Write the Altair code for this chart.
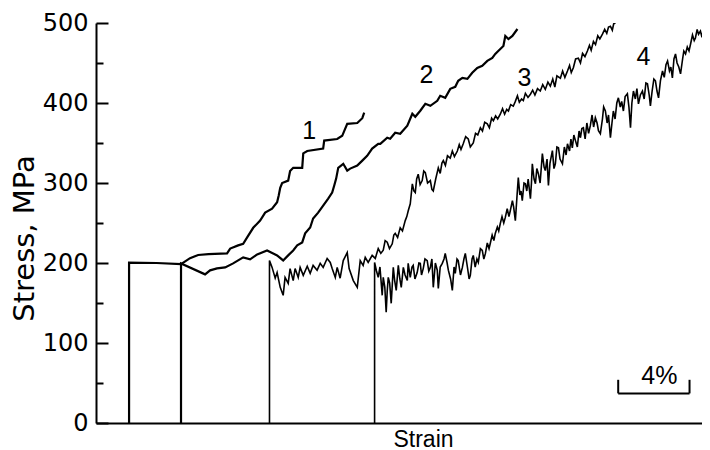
import altair as alt
import pandas as pd

# ---- data (strain in %, stress in MPa) ----
c1_strain = [1.91, 1.91, 3.5, 4.91, 5.43, 5.9, 6.5, 7.57, 7.75, 8.21, 8.5, 8.73, 9.08, 9.48, 9.77,
             10.17, 10.46, 10.55, 10.64, 10.75, 11.10, 11.21, 11.39, 11.91, 11.97, 12.20, 13.12,
             13.18, 13.93, 14.22, 14.51, 15.09, 15.38, 15.49]
c1_stress = [0, 200.5, 200, 198.5, 206, 210, 211, 212, 218, 222, 224, 232, 244, 253, 263,
             268, 276, 284, 294, 300, 303, 315, 319, 319, 337, 340, 343,
             353, 355, 359, 374, 375, 381, 388]

c2_strain = [4.91, 4.91, 6.30, 6.59, 6.99, 7.46, 7.92, 8.50, 8.90, 9.31, 9.88, 10.46, 10.81, 11.10,
             11.39, 11.62, 11.91, 12.08, 12.37, 12.54, 12.83, 13.12, 13.41, 13.64, 13.76, 13.87,
             13.99, 14.28, 14.51, 14.68, 15.09, 15.38, 15.66, 15.95, 16.30, 16.42, 16.82, 16.99,
             17.28, 17.57, 17.98, 18.27, 18.44, 18.73, 19.02, 19.31, 19.71, 19.88, 20.17, 20.46,
             20.75, 20.92, 21.16, 21.45, 21.73, 22.02, 22.31, 22.60, 22.89, 23.06, 23.35, 23.53,
             23.64, 23.82, 24.05, 24.34]
c2_stress = [0, 199.5, 185.8, 190.8, 193.3, 194.5, 199.5, 207, 204.5, 210.7, 215.7, 209.5, 203.2, 209.5,
             215.7, 222, 225.7, 237, 244.4, 255.6, 263, 271.8, 280.5, 288, 296.8, 305.5,
             319, 324, 315.5, 318, 321.7, 328, 334, 343, 349, 349, 356.6, 355.4,
             362.8, 361.6, 371.6, 386.5, 382.8, 390.3, 399, 396.5, 402.7, 409, 406.5, 417.7,
             420.2, 427.7, 431.4, 430.2, 437.7, 443.9, 446.4, 452.6, 456.4, 461.3, 467.6, 471.3,
             483.8, 480, 483.8, 492.5]

c3_strain = [10.02, 10.02, 10.17, 10.35, 10.46, 10.64, 10.81, 10.92, 11.10, 11.21, 11.39, 11.50, 11.68,
             11.79, 11.97, 12.20, 12.37, 12.54, 12.77, 12.95, 13.12, 13.35, 13.53, 13.64, 13.82,
             13.93, 14.10, 14.28, 14.51, 14.62, 14.86, 15.09, 15.26, 15.43, 15.55, 15.72, 15.95,
             16.13, 16.30, 16.45, 16.59, 16.70, 16.82, 16.95, 17.11, 17.20, 17.28, 17.42, 17.57,
             17.70, 17.86, 17.95, 18.03, 18.15, 18.27, 18.36, 18.44, 18.52, 18.61, 18.72, 18.84,
             18.93, 19.02, 19.15, 19.31, 19.40, 19.48, 19.62, 19.77, 19.88, 19.98, 20.06, 20.18,
             20.30, 20.46, 20.58, 20.70, 20.87, 20.98, 21.08, 21.21, 21.35, 21.50, 21.62, 21.79,
             21.92, 22.05, 22.20, 22.32, 22.45, 22.60, 22.72, 22.85, 22.95, 23.08, 23.20, 23.35,
             23.48, 23.60, 23.72, 23.82, 23.95, 24.10, 24.22, 24.34, 24.45, 24.58, 24.68, 24.80,
             24.95, 25.09, 25.22, 25.35, 25.50, 25.66, 25.80, 25.95, 26.10, 26.24, 26.38, 26.50,
             26.62, 26.82, 26.95, 27.08, 27.23, 27.35, 27.45, 27.57, 27.70, 27.86, 27.98, 28.10,
             28.24, 28.38, 28.50, 28.60, 28.73, 28.85, 28.98, 29.10, 29.25, 29.38, 29.50, 29.60,
             29.71, 29.82, 29.90, 30.00]
c3_stress = [0, 203, 194.5, 181, 188, 169.6, 159.6, 182, 174.6, 193, 178, 193, 182,
             194.5, 184.5, 196, 187, 197, 191, 199.5, 194.5, 205.7, 200.7, 193, 182,
             194.5, 181, 203, 213, 193, 178, 169.6, 203, 197, 207, 200.7, 209.5,
             205.7, 218, 212, 216, 228, 226, 218, 224, 235, 237, 232, 244,
             240, 253, 258, 265, 274, 299, 290, 288, 305, 311, 298, 303,
             315, 313, 300, 303, 292, 290, 305, 319, 312, 325, 328, 322,
             334, 331, 340, 333, 340, 348, 342, 349, 358, 355, 345, 350,
             362, 360, 369, 365, 376, 374, 369, 381, 378, 384, 380, 386,
             393, 386, 392, 390, 398, 396, 402, 409, 401, 405, 403, 412,
             407, 411, 416, 410, 418, 415, 423, 417, 426, 421, 430, 420,
             434, 431, 440, 432, 440, 447, 438, 444, 455, 456, 450, 462,
             458, 465, 472, 466, 477, 473, 484, 480, 486, 492, 487, 495,
             496, 491, 499, 500]

c4_strain = [16.09, 16.09, 16.20, 16.30, 16.40, 16.53, 16.59, 16.68, 16.76, 16.82, 16.88, 16.96, 17.05,
             17.17, 17.25, 17.34, 17.46, 17.55, 17.63, 17.75, 17.85, 17.98, 18.03, 18.15, 18.25,
             18.32, 18.42, 18.55, 18.65, 18.73, 18.80, 18.90, 19.00, 19.13, 19.22, 19.31, 19.40,
             19.48, 19.60, 19.71, 19.77, 19.88, 20.00, 20.10, 20.17, 20.28, 20.35, 20.48, 20.58,
             20.68, 20.75, 20.85, 20.92, 21.05, 21.16, 21.25, 21.33, 21.45, 21.55, 21.62, 21.72,
             21.79, 21.90, 22.00, 22.08, 22.20, 22.31, 22.40, 22.49, 22.60, 22.70, 22.77, 22.88,
             22.98, 23.06, 23.18, 23.26, 23.35, 23.45, 23.55, 23.64, 23.75, 23.85, 23.93, 24.05,
             24.12, 24.22, 24.32, 24.39, 24.48, 24.55, 24.62, 24.72, 24.80, 24.88, 24.96, 25.09,
             25.15, 25.20, 25.30, 25.38, 25.46, 25.55, 25.65, 25.78, 25.88, 25.95, 26.05, 26.13,
             26.22, 26.36, 26.45, 26.53, 26.62, 26.71, 26.80, 26.94, 27.05, 27.15, 27.23, 27.35,
             27.43, 27.51, 27.60, 27.69, 27.80, 27.90, 27.98, 28.06, 28.15, 28.25, 28.35, 28.45,
             28.55, 28.65, 28.74, 28.84, 28.94, 29.02, 29.13, 29.25, 29.32, 29.42, 29.52, 29.60,
             29.71, 29.80, 29.88, 29.98, 30.08, 30.17, 30.28, 30.36, 30.46, 30.56, 30.69, 30.78,
             30.87, 30.95, 31.04, 31.15, 31.24, 31.33, 31.44, 31.56, 31.66, 31.76, 31.85, 31.95,
             32.02, 32.12, 32.22, 32.31, 32.40, 32.49, 32.60, 32.72, 32.82, 32.92, 33.01, 33.12,
             33.20, 33.29, 33.38, 33.47, 33.56, 33.66, 33.76, 33.88, 33.95, 34.05, 34.15, 34.25,
             34.34, 34.45, 34.55, 34.62, 34.72, 34.80, 34.91, 35.00, 35.10, 35.20, 35.38]
c4_stress = [0, 200.7, 190, 182, 195, 159.6, 182, 170, 138.4, 165, 182, 175, 149.6,
             194.5, 178, 165.8, 197, 180, 169.6, 194.5, 185, 178.3, 199.5, 182, 195,
             197, 180, 188, 200, 199.5, 185, 193, 205, 203, 190, 194.5, 205,
             169.6, 200, 191, 168.3, 195, 199.5, 205, 212, 200, 191, 180, 165.8,
             195, 187, 205, 203, 185, 194.5, 205, 212, 195, 180, 184.5, 205,
             209.5, 195, 205, 200.7, 218, 215.7, 205, 212, 225, 218, 224.4, 235,
             228, 237, 245, 240, 249.4, 258, 250, 257, 268, 258, 265.6, 278,
             270, 253, 285, 306.7, 285, 290, 278, 300, 299, 290, 305, 280.5,
             300, 324, 305, 299, 318, 311.7, 300, 336.7, 320, 315.5, 330, 296.8,
             325, 340.4, 318, 324, 345, 344, 330, 324, 345, 335, 349, 340,
             355, 344, 360, 353, 345, 365, 356.6, 368, 369, 355, 375, 362,
             371.6, 385, 370, 381.5, 375, 365.3, 361.6, 380, 395, 390, 375, 385,
             356.6, 375, 390, 380, 400, 406.5, 395, 402, 390, 408, 411.5, 395,
             369, 400, 415, 405, 418, 399, 410, 415, 405, 425, 424, 410,
             396.5, 415, 430, 427.7, 415, 406.5, 428, 440, 432, 448, 452.6, 440,
             445, 431.4, 455, 461.3, 450, 445, 436.4, 455, 465, 461.3, 470, 465,
             473.8, 485, 478, 481.3, 492, 486, 490, 482, 495, 466.6, 496]

label_text = ["1", "2", "3", "4"]
label_strain = [12.31, 19.08, 24.74, 31.62]
label_stress = [365, 435, 431, 457]

major_ticks = [0, 100, 200, 300, 400, 500]
all_ticks = [0, 50, 100, 150, 200, 250, 300, 350, 400, 450, 500]

bar_strain = [30.16, 34.28]
bar_low = 37
bar_high = 54
bar_label = "4%"
bar_label_strain = 32.54
bar_label_stress = 58.6

FONT = "Liberation Sans"
WIDE = "DejaVu Sans"
W, H = 606, 400

rows = []
for name, xs, ys in [("1", c1_strain, c1_stress), ("2", c2_strain, c2_stress),
                     ("3", c3_strain, c3_stress), ("4", c4_strain, c4_stress)]:
    for i, (x, y) in enumerate(zip(xs, ys)):
        rows.append({"curve": name, "strain": x, "stress": y, "order": i,
                     "thick": "a" if name in ("1", "2") else "b"})
curves = pd.DataFrame(rows)

xscale = alt.Scale(domain=[0, 35], nice=False, zero=False)
yscale = alt.Scale(domain=[0, 500], nice=False)

xaxis = alt.Axis(labels=False, ticks=False, tickSize=0, grid=False, domainColor="black",
                 domainWidth=2, title="Strain", titleFont=FONT, titleFontSize=23,
                 titleFontWeight="normal", titleColor="black", titleX=327, titleY=5,
                 titleBaseline="top", titleAlign="center")
yaxis = alt.Axis(orient="left", values=major_ticks, ticks=False, tickSize=0, grid=False,
                 domainColor="black", domainWidth=2, labelFont=WIDE, labelFontSize=24,
                 labelColor="black", labelPadding=8, labelBaseline="middle",
                 title="Stress, MPa", titleFont=WIDE, titleFontSize=29, titleFontWeight="normal",
                 titleColor="black", titleX=-63, titleY=215, titleBaseline="alphabetic",
                 titleAlign="center", titleAngle=-90)
# inward ticks: a right-oriented axis pulled back onto the left edge
tickaxis = alt.Axis(orient="right", offset=-W, values=all_ticks, labels=False, domain=False,
                    grid=False, title=None, ticks=True, tickColor="black", tickWidth=2,
                    tickSize={"condition": {"test": "datum.value % 100 === 0", "value": 12},
                              "value": 7})

lines = alt.Chart(curves).mark_line(color="black", clip=True, strokeJoin="miter").encode(
    x=alt.X("strain:Q", scale=xscale, axis=xaxis),
    y=alt.Y("stress:Q", scale=yscale, axis=yaxis),
    detail="curve:N",
    order="order:Q",
    strokeWidth=alt.StrokeWidth("thick:N", scale=alt.Scale(domain=["a", "b"], range=[2.2, 1.6]),
                                legend=None),
)

tick_layer = alt.Chart(pd.DataFrame({"v": [0, 500]})).mark_point(opacity=0).encode(
    y=alt.Y("v:Q", scale=yscale, axis=tickaxis))

labels_df = pd.DataFrame({"t": label_text, "x": label_strain, "y": label_stress})
labels = alt.Chart(labels_df).mark_text(font=FONT, fontSize=25, color="black",
                                        align="center", baseline="middle").encode(
    x=alt.X("x:Q", scale=xscale), y=alt.Y("y:Q", scale=yscale, axis=None), text="t:N")

bar_h = alt.Chart(pd.DataFrame({"x1": [bar_strain[0]], "x2": [bar_strain[1]], "y": [bar_low]})).mark_rule(
    color="black", strokeWidth=2).encode(
    x=alt.X("x1:Q", scale=xscale), x2="x2:Q", y=alt.Y("y:Q", scale=yscale, axis=None))
bar_v = alt.Chart(pd.DataFrame({"x": bar_strain, "y1": [bar_low] * 2, "y2": [bar_high] * 2})).mark_rule(
    color="black", strokeWidth=2).encode(
    x=alt.X("x:Q", scale=xscale), y=alt.Y("y1:Q", scale=yscale, axis=None), y2="y2:Q")
bar_t = alt.Chart(pd.DataFrame({"t": [bar_label], "x": [bar_label_strain], "y": [bar_label_stress]})).mark_text(
    font=FONT, fontSize=25, color="black", align="center", baseline="middle").encode(
    x=alt.X("x:Q", scale=xscale), y=alt.Y("y:Q", scale=yscale, axis=None), text="t:N")

chart = alt.layer(lines, tick_layer, labels, bar_h, bar_v, bar_t).resolve_axis(
    y="independent"
).properties(
    width=W, height=H,
    autosize=alt.AutoSizeParams(type="none"),
    padding={"left": 88, "top": 15, "right": 0, "bottom": 27},
    background="white",
).configure_view(stroke=None)

chart.save("out.html", embed_options={"renderer": "svg", "actions": False})
